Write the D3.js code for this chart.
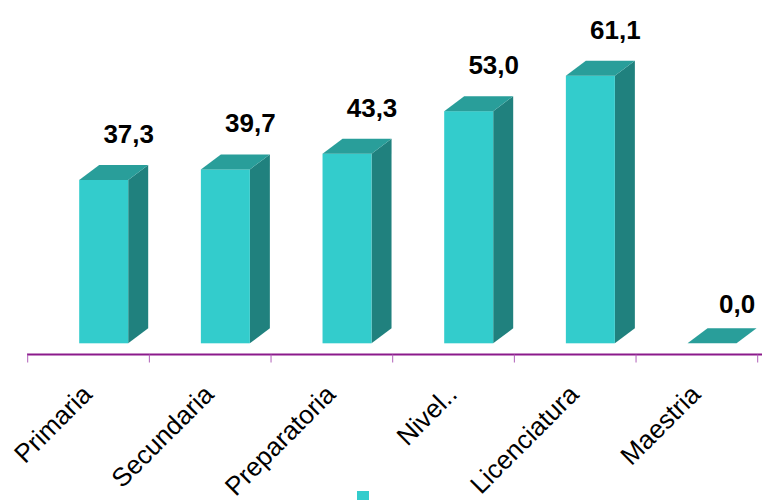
<!DOCTYPE html>
<html>
<head>
<meta charset="utf-8">
<script src="https://cdn.jsdelivr.net/npm/d3@7/dist/d3.min.js"></script>
<style>
  html, body { margin: 0; padding: 0; background: #fff; }
  svg { display: block; }
</style>
</head>
<body>
<svg id="chart" width="762" height="500"></svg>
<script>
const categories = ["Primaria", "Secundaria", "Preparatoria", "Nivel..", "Licenciatura", "Maestria"];
const values = [37.3, 39.7, 43.3, 53.0, 61.1, 0.0];
const valueLabels = ["37,3", "39,7", "43,3", "53,0", "61,1", "0,0"];

const W = 762, H = 500;
const svg = d3.select("#chart");

const x = d3.scaleBand().domain(categories).range([27.7, 757.7]).padding(0);
const y = d3.scaleLinear().domain([0, 70]).range([343.3, 36.7]);

const axisY = 354.5;
const depthX = 20, depthY = 15;
const frontOffset = 51.5, frontW = 49;

const colFront = "#33cccc", colTop = "#299e9a", colSide = "#20817e";

const bars = svg.append("g").selectAll("g").data(categories).join("g");

bars.each(function(c, i) {
  const g = d3.select(this);
  const x0 = x(c) + frontOffset, x1 = x0 + frontW;
  const yt = y(values[i]), yb = y(0);
  g.append("path")
    .attr("d", `M${x1},${yt} L${x1 + depthX},${yt - depthY} L${x1 + depthX},${yb - depthY} L${x1},${yb} Z`)
    .attr("fill", colSide);
  if (yb - yt > 0) {
    g.append("rect").attr("x", x0).attr("y", yt).attr("width", frontW).attr("height", yb - yt)
      .attr("fill", colFront);
  }
  g.append("path")
    .attr("d", `M${x0},${yt} L${x0 + depthX},${yt - depthY} L${x1 + depthX},${yt - depthY} L${x1},${yt} Z`)
    .attr("fill", colTop);
});

svg.append("g").selectAll("text").data(categories).join("text")
  .attr("x", c => x(c) + 101)
  .attr("y", (c, i) => y(values[i]) - (values[i] > 0 ? 37 : 30))
  .attr("text-anchor", "middle")
  .attr("font-family", "Liberation Sans, Arial, sans-serif")
  .attr("font-weight", "bold")
  .attr("font-size", 26)
  .attr("fill", "#000")
  .text((c, i) => valueLabels[i]);

const axisG = svg.append("g").attr("transform", `translate(0,${axisY})`);
axisG.append("line").attr("x1", 27).attr("x2", W).attr("y1", 0).attr("y2", 0)
  .attr("stroke", "#8b1a8b").attr("stroke-width", 1.8);
const tickXs = categories.map(c => x(c)).concat([x.range()[1]]);
axisG.selectAll("line.tick").data(tickXs).join("line").attr("class", "tick")
  .attr("x1", d => d).attr("x2", d => d).attr("y1", 0).attr("y2", 8)
  .attr("stroke", "#b060b8").attr("stroke-width", 1);

svg.append("g").selectAll("text").data(categories).join("text")
  .attr("transform", c => `translate(${x(c) + x.bandwidth() / 2 + 5},${396}) rotate(-45)`)
  .attr("text-anchor", "end")
  .attr("font-family", "Liberation Sans, Arial, sans-serif")
  .attr("font-size", 26)
  .attr("fill", "#000")
  .text(c => c);

svg.append("rect").attr("x", 357).attr("y", 491).attr("width", 12).attr("height", 12).attr("fill", colFront);
</script>
</body>
</html>
